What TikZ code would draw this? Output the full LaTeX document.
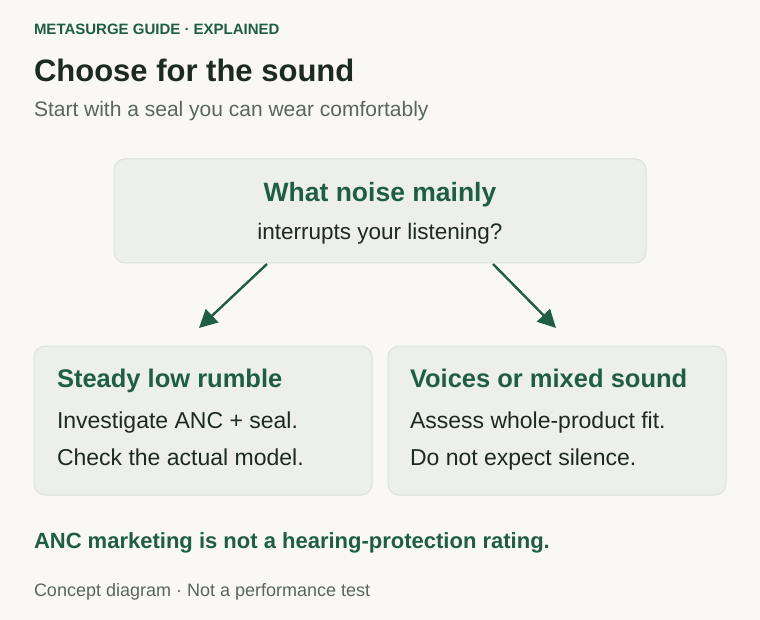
\documentclass[tikz,border=0pt]{standalone}
\usepackage{fontspec}
\setmainfont{Liberation Sans}
\usetikzlibrary{arrows.meta}
\definecolor{bgc}{HTML}{F9F8F4}
\definecolor{boxfill}{HTML}{EDF0EA}
\definecolor{boxline}{HTML}{DCE1D9}
\definecolor{grn}{HTML}{1F5E45}
\definecolor{dark}{HTML}{1D2924}
\definecolor{gry}{HTML}{5A6560}
\tikzset{
  card/.style={draw=boxline, fill=boxfill, line width=1pt, rounded corners=11pt},
  txt/.style={inner sep=0pt, outer sep=0pt},
  flow/.style={draw=grn, line width=2.4pt, -{Triangle[length=18pt,width=18pt]}},
}
\begin{document}
\begin{tikzpicture}[x=1pt,y=-1pt]
\fill[bgc] (0,0) rectangle (760,620);
\useasboundingbox (0,0) rectangle (760,620);

\node[txt, anchor=base west, text=grn, font=\fontsize{15}{17}\selectfont\bfseries] (kicker) at (34,35) {METASURGE GUIDE · EXPLAINED};
\node[txt, anchor=base west, text=dark, font=\fontsize{31}{34}\selectfont\bfseries] (title) at (34,82) {Choose for the sound};
\node[txt, anchor=base west, text=gry, font=\fontsize{21}{24}\selectfont] (sub) at (34,117) {Start with a seal you can wear comfortably};

\draw[card] (114,159) rectangle (646,263);
\node[txt, anchor=base, text=grn, font=\fontsize{26.5}{30}\selectfont\bfseries] (qt) at (380,202) {What noise mainly};
\node[txt, anchor=base, text=dark, font=\fontsize{22.5}{26}\selectfont] (qs) at (380,240) {interrupts your listening?};

\draw[card] (34,346) rectangle (372,495);
\node[txt, anchor=base west, text=grn, font=\fontsize{25.5}{30}\selectfont\bfseries] (lh) at (57,387) {Steady low rumble};
\node[txt, anchor=base west, text=dark, font=\fontsize{23}{26}\selectfont] (l1) at (57,428) {Investigate ANC + seal.};
\node[txt, anchor=base west, text=dark, font=\fontsize{23}{26}\selectfont] (l2) at (57,465) {Check the actual model.};

\draw[card] (388,346) rectangle (726,495);
\node[txt, anchor=base west, text=grn, font=\fontsize{25.5}{30}\selectfont\bfseries] (rh) at (410,387) {Voices or mixed sound};
\node[txt, anchor=base west, text=dark, font=\fontsize{23}{26}\selectfont] (r1) at (410,428) {Assess whole-product fit.};
\node[txt, anchor=base west, text=dark, font=\fontsize{23}{26}\selectfont] (r2) at (410,465) {Do not expect silence.};

\coordinate (a1s) at (267,264);
\coordinate (a1e) at (199,328);
\coordinate (a2s) at (493,264);
\coordinate (a2e) at (556,328);
\draw[flow] (a1s) -- (a1e);
\draw[flow] (a2s) -- (a2e);

\node[txt, anchor=base west, text=grn, font=\fontsize{22}{26}\selectfont\bfseries] (warn) at (34,548) {ANC marketing is not a hearing-protection rating.};
\node[txt, anchor=base west, text=gry, font=\fontsize{18}{21}\selectfont] (foot) at (34,596) {Concept diagram · Not a performance test};
\end{tikzpicture}
\end{document}
